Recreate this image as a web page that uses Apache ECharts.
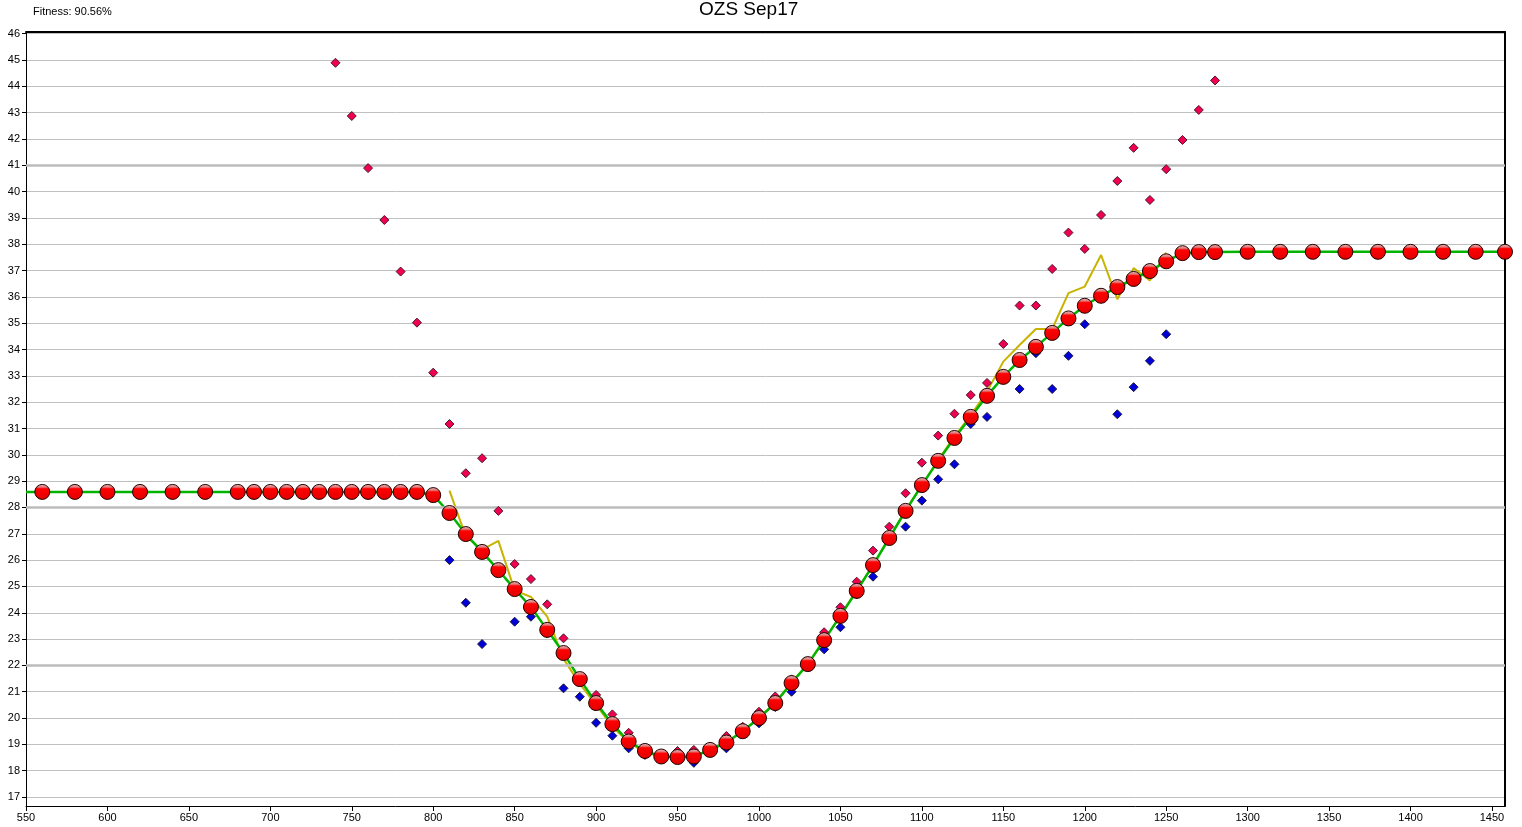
<!DOCTYPE html>
<html>
<head>
<meta charset="utf-8">
<title>OZS Sep17</title>
<script src="https://cdn.jsdelivr.net/npm/echarts@6/dist/echarts.min.js"></script>
<style>
  html, body { margin: 0; padding: 0; background: #ffffff; }
  #chart { width: 1522px; height: 827px; }
</style>
</head>
<body>
<div id="chart"></div>
<script>
// Strike grid and fitted values (red points, joined by the green fit line)
const fitStrikes = [560, 580, 600, 620, 640, 660, 680, 690, 700, 710, 720, 730, 740, 750, 760, 770, 780, 790,
  800, 810, 820, 830, 840, 850, 860, 870, 880, 890, 900, 910, 920, 930, 940, 950, 960, 970, 980, 990,
  1000, 1010, 1020, 1030, 1040, 1050, 1060, 1070, 1080, 1090, 1100, 1110, 1120, 1130, 1140, 1150, 1160,
  1170, 1180, 1190, 1200, 1210, 1220, 1230, 1240, 1250, 1260, 1270, 1280,
  1300, 1320, 1340, 1360, 1380, 1400, 1420, 1440, 1458];
const fitValues = [28.59, 28.59, 28.59, 28.59, 28.59, 28.59, 28.59, 28.59, 28.59, 28.59, 28.59, 28.59, 28.59, 28.59, 28.59, 28.59, 28.59, 28.59,
  28.47, 27.79, 26.99, 26.31, 25.62, 24.90, 24.22, 23.35, 22.47, 21.48, 20.57, 19.77, 19.11, 18.75, 18.54, 18.52, 18.54, 18.79, 19.07, 19.50,
  20.00, 20.57, 21.33, 22.05, 22.96, 23.88, 24.83, 25.81, 26.84, 27.87, 28.85, 29.77, 30.64, 31.44, 32.24, 32.96, 33.60,
  34.10, 34.63, 35.18, 35.66, 36.04, 36.37, 36.68, 36.98, 37.35, 37.66, 37.70, 37.70,
  37.71, 37.71, 37.71, 37.71, 37.71, 37.71, 37.71, 37.71, 37.71];
// The fit line also starts at the left edge of the strike range
const fitLineStart = [550, 28.59];

// Market mid values (olive line)
const midStrikes = [810, 820, 830, 840, 850, 860, 870, 880, 890, 900, 910, 920, 930, 940, 950, 960, 970, 980, 990,
  1000, 1010, 1020, 1030, 1040, 1050, 1060, 1070, 1080, 1090, 1100, 1110, 1120, 1130, 1140, 1150, 1160,
  1170, 1180, 1190, 1200, 1210, 1220, 1230, 1240, 1250];
const midValues = [28.64, 26.90, 26.40, 26.73, 24.85, 24.60, 23.85, 22.25, 21.30, 20.50, 19.67, 19.08, 18.70, 18.55, 18.50, 18.55, 18.80, 19.10, 19.50,
  20.00, 20.60, 21.35, 22.05, 22.95, 23.90, 24.85, 25.80, 26.85, 27.90, 28.85, 29.80, 30.70, 31.50, 32.40, 33.54, 34.17,
  34.78, 34.78, 36.14, 36.39, 37.59, 35.91, 37.09, 36.62, 37.68];

// Ask values (pink diamonds)
const askStrikes = [740, 750, 760, 770, 780, 790, 800, 810, 820, 830, 840, 850, 860, 870, 880, 890, 900, 910, 920, 930,
  940, 950, 960, 970, 980, 990, 1000, 1010, 1020, 1030, 1040, 1050, 1060, 1070, 1080, 1090, 1100, 1110, 1120,
  1130, 1140, 1150, 1160, 1170, 1180, 1190, 1200, 1210, 1220, 1230, 1240, 1250, 1260, 1270, 1280];
const askValues = [44.89, 42.87, 40.89, 38.92, 36.96, 35.02, 33.12, 31.17, 29.30, 29.87, 27.87, 25.85, 25.28, 24.32, 23.03, 21.55, 20.88, 20.14, 19.44, 18.85,
  18.62, 18.75, 18.79, 18.92, 19.32, 19.67, 20.24, 20.82, 21.47, 22.15, 23.26, 24.21, 25.18, 26.36, 27.27, 28.54, 29.70, 30.73, 31.56,
  32.27, 32.73, 34.21, 35.67, 35.67, 37.06, 38.44, 37.82, 39.11, 40.40, 41.66, 39.68, 40.85, 41.96, 43.10, 44.22];

// Bid values (blue diamonds)
const bidStrikes = [810, 820, 830, 840, 850, 860, 870, 880, 890, 900, 910, 920, 930, 940, 950, 960, 970, 980, 990,
  1000, 1010, 1020, 1030, 1040, 1050, 1060, 1070, 1080, 1090, 1100, 1110, 1120, 1130, 1140, 1150, 1160,
  1170, 1180, 1190, 1200, 1210, 1220, 1230, 1240, 1250];
const bidValues = [26.00, 24.38, 22.81, 25.55, 23.66, 23.85, 23.22, 21.13, 20.81, 19.82, 19.33, 18.85, 18.60, 18.50, 18.45, 18.30, 18.70, 18.85, 19.40,
  19.80, 20.42, 21.00, 21.95, 22.61, 23.45, 24.70, 25.37, 26.75, 27.27, 28.26, 29.07, 29.64, 31.17, 31.44, 32.90, 32.50,
  33.86, 32.50, 33.76, 34.96, 36.10, 31.54, 32.57, 33.57, 34.58];

// Horizontal rules drawn heavier than the ordinary grid
const heavyRules = [41, 28, 22];

const titleText = 'OZS Sep17';
const fitnessText = 'Fitness: 90.56%';

const zip = (xs, ys) => xs.map((x, i) => [x, ys[i]]);

const chart = echarts.init(document.getElementById('chart'), null, { renderer: 'canvas' });

const FONT = 'Arial, "Liberation Sans", sans-serif';

chart.setOption({
  animation: false,
  backgroundColor: '#ffffff',
  title: [
    {
      text: titleText,
      left: 694,
      top: -5,
      textStyle: { fontFamily: FONT, fontSize: 19, fontWeight: 'normal', color: '#000' }
    },
    {
      text: fitnessText,
      left: 28,
      top: 1,
      textStyle: { fontFamily: FONT, fontSize: 11, fontWeight: 'normal', color: '#000' }
    }
  ],
  grid: { left: 26, right: 17, top: 32, bottom: 21, containLabel: false },
  xAxis: [
    {
      type: 'value',
      min: 550,
      max: 1458,
      interval: 50,
      axisLine: { show: true, lineStyle: { color: '#000', width: 1 } },
      axisTick: { show: true, length: 5, lineStyle: { color: '#000' } },
      axisLabel: {
        showMaxLabel: false,
        margin: 6,
        color: '#000',
        fontFamily: FONT,
        fontSize: 11,
        formatter: v => (v % 50 === 0 ? String(v) : '')
      },
      splitLine: { show: false }
    },
    {
      type: 'value',
      position: 'top',
      min: 550,
      max: 1458,
      axisLine: { show: true, onZero: false, lineStyle: { color: '#000', width: 2 } },
      axisTick: { show: false },
      axisLabel: { show: false },
      splitLine: { show: false }
    }
  ],
  yAxis: [
    {
      type: 'value',
      min: 16.66,
      max: 46.06,
      minInterval: 1,
      maxInterval: 1,
      splitNumber: 29,
      axisLine: { show: true, onZero: false, lineStyle: { color: '#000', width: 1 } },
      axisTick: { show: true, length: 4, lineStyle: { color: '#000' } },
      axisLabel: {
        showMinLabel: false,
        showMaxLabel: false,
        margin: 6,
        color: '#000',
        fontFamily: FONT,
        fontSize: 11,
        formatter: v => (Math.abs(v - Math.round(v)) < 1e-6 ? String(Math.round(v)) : '')
      },
      splitLine: { show: true, lineStyle: { color: '#c0c0c0', width: 1 } }
    },
    {
      type: 'value',
      position: 'right',
      min: 16.66,
      max: 46.06,
      axisLine: { show: true, onZero: false, lineStyle: { color: '#000', width: 2 } },
      axisTick: { show: false },
      axisLabel: { show: false },
      splitLine: { show: false }
    }
  ],
  series: [
    {
      name: 'Mid',
      type: 'line',
      data: zip(midStrikes, midValues),
      symbol: 'none',
      z: 2,
      lineStyle: { color: '#c8b400', width: 2 },
      markLine: {
        silent: true,
        symbol: ['none', 'none'],
        label: { show: false },
        lineStyle: { color: '#bcbcbc', width: 2.5, type: 'solid' },
        data: heavyRules.map(v => ({ yAxis: v }))
      }
    },
    {
      name: 'Fit',
      type: 'line',
      data: [fitLineStart].concat(zip(fitStrikes, fitValues)),
      symbol: 'none',
      z: 3,
      lineStyle: { color: '#00b400', width: 2.5 }
    },
    {
      name: 'Bid',
      type: 'scatter',
      data: zip(bidStrikes, bidValues),
      symbol: 'diamond',
      symbolSize: 9,
      z: 4,
      itemStyle: { color: '#0000d8', borderColor: '#1a1a40', borderWidth: 1, opacity: 1 }
    },
    {
      name: 'Ask',
      type: 'scatter',
      data: zip(askStrikes, askValues),
      symbol: 'diamond',
      symbolSize: 9,
      z: 5,
      itemStyle: { color: '#f00050', borderColor: '#4a1a28', borderWidth: 1, opacity: 1 }
    },
    {
      name: 'Model',
      type: 'scatter',
      data: zip(fitStrikes, fitValues),
      symbol: 'circle',
      symbolSize: 15,
      z: 6,
      itemStyle: {
        opacity: 1,
        color: {
          type: 'linear', x: 0, y: 0, x2: 0, y2: 1,
          colorStops: [
            { offset: 0, color: '#f0c8c8' },
            { offset: 0.2, color: '#e07878' },
            { offset: 0.3, color: '#ff0000' },
            { offset: 1, color: '#e00000' }
          ]
        },
        borderColor: '#200000',
        borderWidth: 1
      }
    }
  ]
});
</script>
</body>
</html>
